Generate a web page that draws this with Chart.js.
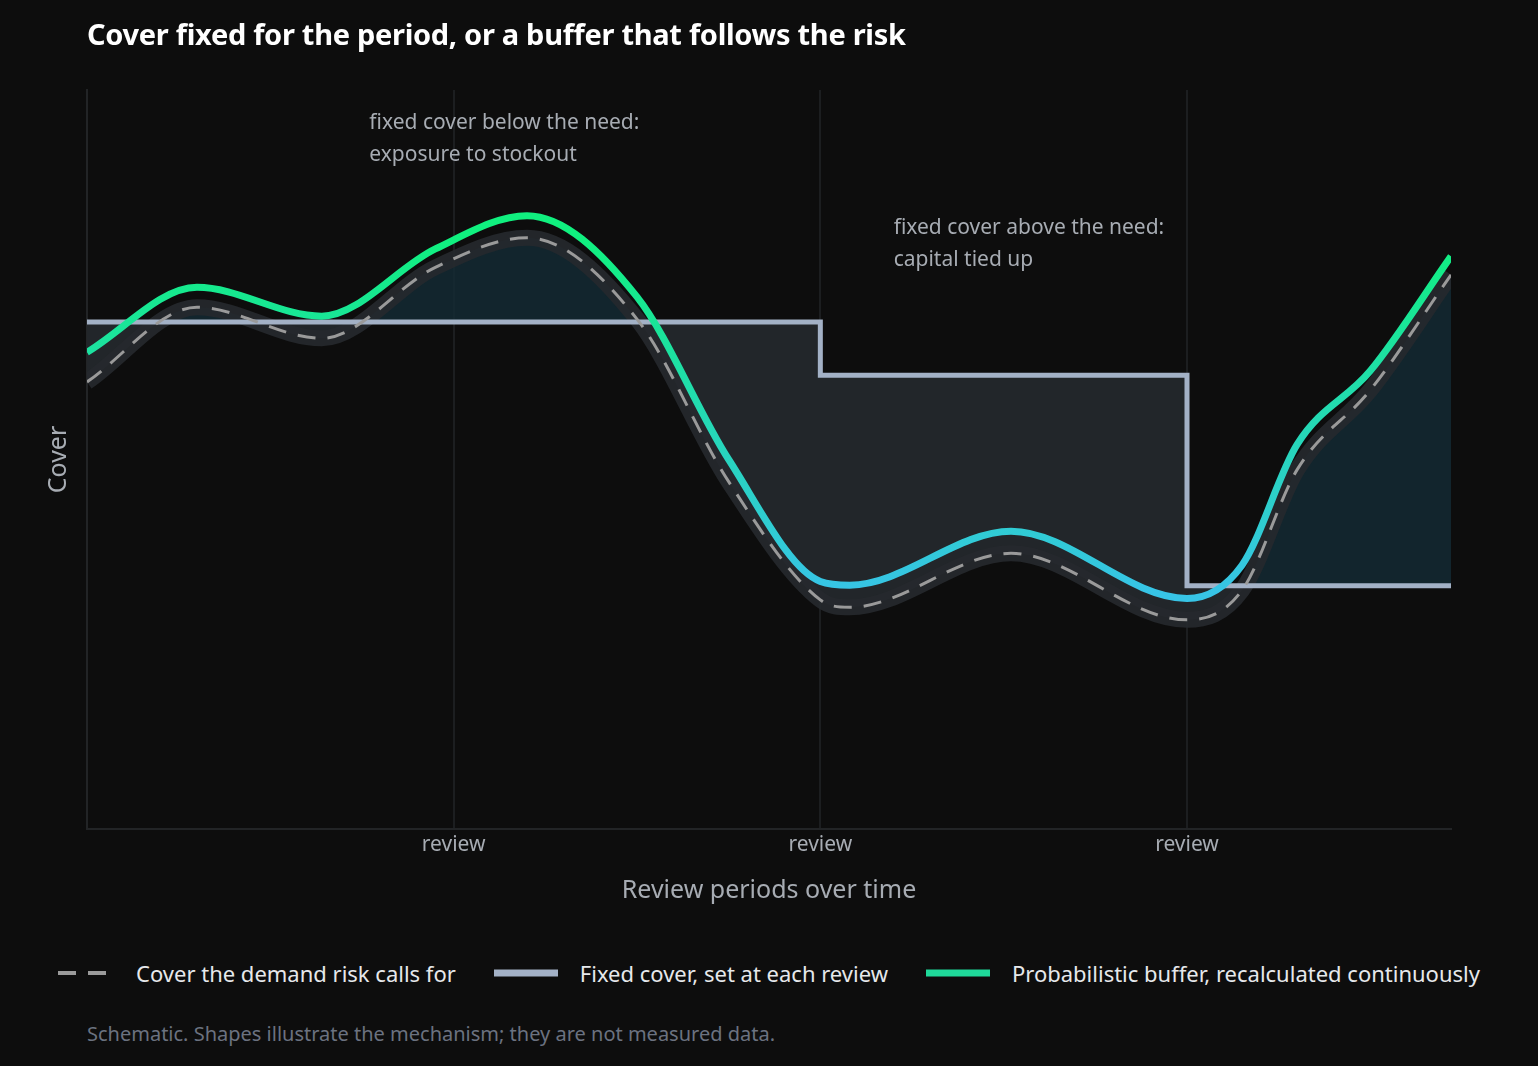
<!DOCTYPE html>
<html><head><meta charset="utf-8">
<script src="https://cdn.jsdelivr.net/npm/chart.js@4/dist/chart.umd.min.js"></script>
<style>
body{margin:0;background:#0d0d0d;width:1538px;height:1066px;overflow:hidden;font-family:"Noto Sans",sans-serif}
#title{position:absolute;left:87px;top:14px;color:#fff;font-size:29px;font-weight:bold;letter-spacing:-0.3px}
#wrap{position:absolute;left:0;top:0;width:1538px;height:910px}
#legend{position:absolute;top:958px;left:0;width:1538px;display:flex;justify-content:center;gap:38px;color:#e6e8eb;font-size:22px}
#legend span{display:flex;align-items:center;gap:22px}
#note{position:absolute;left:87px;top:1020px;color:#6b7280;font-size:20px}
</style></head>
<body>
<div id="wrap"><canvas id="chart"></canvas></div>
<div id="title">Cover fixed for the period, or a buffer that follows the risk</div>
<div id="legend">
 <span><svg width="56" height="8"><line x1="0" y1="4" x2="56" y2="4" stroke="#9a9a9a" stroke-width="4" stroke-dasharray="18,12"/></svg>Cover the demand risk calls for</span>
 <span><svg width="64" height="8"><line x1="0" y1="4" x2="64" y2="4" stroke="#a3b1c6" stroke-width="7"/></svg>Fixed cover, set at each review</span>
 <span><svg width="64" height="8"><line x1="0" y1="4" x2="64" y2="4" stroke="#1fd99a" stroke-width="7"/></svg>Probabilistic buffer, recalculated continuously</span>
</div>
<div id="note">Schematic. Shapes illustrate the mechanism; they are not measured data.</div>
<script>
// Values (x in review periods, y in arbitrary cover units)
var demandX = [0, 0.3, 0.64, 0.95, 1.2, 1.5, 1.75, 2.0, 2.08, 2.52, 3.0, 3.15, 3.3, 3.5, 3.72];
var demandY = [60.5, 70.6, 66.4, 76, 80, 69, 47, 31, 30, 37.3, 28.3, 32.3, 48.6, 59.4, 75];
var bufferY = [64.5, 73.3, 69.4, 78.5, 83, 72, 50, 33.5, 33, 40.3, 31.2, 35.7, 52, 62, 77.5];
var fixedX = [0, 2, 2, 3, 3, 3.72];
var fixedY = [68.6, 68.6, 61.4, 61.4, 32.9, 32.9];
var reviewTicks = [1, 2, 3];

function pts(xs, ys) { return xs.map(function (x, i) { return { x: x, y: ys[i] }; }); }

var notes = [
    { x: 0.77, y: 95.5, lines: ["fixed cover below the need:", "exposure to stockout"] },
    { x: 2.2, y: 81.3, lines: ["fixed cover above the need:", "capital tied up"] }
];

var notePlugin = {
    id: "notes",
    afterDatasetsDraw: function (chart) {
        var ctx = chart.ctx, sx = chart.scales.x, sy = chart.scales.y;
        ctx.save();
        ctx.fillStyle = "#a7acb3";
        ctx.font = "21px 'Noto Sans'";
        ctx.textBaseline = "middle";
        notes.forEach(function (n) {
            n.lines.forEach(function (t, i) {
                ctx.fillText(t, sx.getPixelForValue(n.x), sy.getPixelForValue(n.y) + i * 32);
            });
        });
        ctx.restore();
    }
};

function greenGradient(c) {
    var chart = c.chart;
    if (!chart.chartArea) return "#1fd99a";
    var sy = chart.scales.y;
    var g = chart.ctx.createLinearGradient(0, sy.getPixelForValue(80), 0, sy.getPixelForValue(32));
    g.addColorStop(0, "#10f07f");
    g.addColorStop(1, "#37c4e6");
    return g;
}

new Chart(document.getElementById("chart"), {
    type: "line",
    data: {
        datasets: [
            { order: 3, data: pts(fixedX, fixedY), borderColor: "#a3b1c6", borderWidth: 5, tension: 0, pointRadius: 0, fill: false },
            { order: 5, data: pts(demandX, demandY), borderColor: "rgba(0,0,0,0)", borderWidth: 0, cubicInterpolationMode: "monotone", pointRadius: 0,
              fill: { target: 0, above: "rgba(20,42,52,0.85)", below: "#22262a" } },
            { order: 4, data: pts(demandX, demandY), borderColor: "rgba(38,41,45,0.9)", borderWidth: 16, cubicInterpolationMode: "monotone", pointRadius: 0, fill: false },
            { order: 2, data: pts(demandX, demandY), borderColor: "#9a9a9a", borderWidth: 3, borderDash: [18, 12], cubicInterpolationMode: "monotone", pointRadius: 0, fill: false },
            { order: 1, data: pts(demandX, bufferY), borderColor: greenGradient, borderWidth: 7, cubicInterpolationMode: "monotone", pointRadius: 0, fill: false }
        ]
    },
    options: {
        responsive: true, maintainAspectRatio: false, animation: false,
        layout: { padding: { left: 40, right: 87, top: 90, bottom: 0 } },
        plugins: { legend: { display: false }, tooltip: { enabled: false } },
        scales: {
            x: {
                type: "linear", min: 0, max: 3.72,
                afterBuildTicks: function (s) { s.ticks = reviewTicks.map(function (v) { return { value: v }; }); },
                ticks: { color: "#a7acb3", font: { family: "Noto Sans", size: 21 }, callback: function () { return "review"; } },
                grid: { color: "#1c1e20", lineWidth: 2, drawTicks: false },
                border: { color: "#222426", width: 2 },
                title: { display: true, text: "Review periods over time", color: "#a7acb3", font: { family: "Noto Sans", size: 25 } },
                afterFit: function (s) { s.height = 81; }
            },
            y: {
                min: 0, max: 100,
                ticks: { display: false },
                grid: { display: false },
                border: { color: "#222426", width: 2 },
                title: { display: true, text: "Cover", color: "#a7acb3", font: { family: "Noto Sans", size: 25 } },
                afterFit: function (s) { s.width = 47; }
            }
        }
    },
    plugins: [notePlugin]
});
</script>
</body></html>
